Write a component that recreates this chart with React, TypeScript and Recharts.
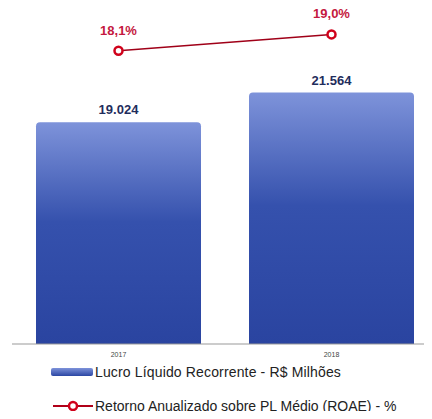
import React from 'react';
import { ComposedChart, Bar, Line, XAxis, YAxis, LabelList, Legend } from 'recharts';

const years = ['2017', '2018'];
const lucro = [19024, 21564];
const lucroLabels = ['19.024', '21.564'];
const roae = [18.1, 19.0];
const roaeLabels = ['18,1%', '19,0%'];

const data = years.map((y, i) => ({
  year: y,
  lucro: lucro[i],
  lucroLabel: lucroLabels[i],
  roae: roae[i],
  roaeLabel: roaeLabels[i],
}));

const FONT = 'Liberation Sans, Arial, sans-serif';

const LegendContent = () => (
  <div style={{ fontFamily: FONT, fontSize: 14, color: '#222', position: 'relative', width: 400, height: 55 }}>
    <div style={{ position: 'absolute', left: 0, top: 4, display: 'flex', alignItems: 'center', height: 16 }}>
      <div style={{ width: 42, height: 8, borderRadius: 2, background: 'linear-gradient(#7d92da, #2b46a3)', marginRight: 2 }} />
      <span style={{ letterSpacing: 0.15 }}>Lucro Líquido Recorrente - R$ Milhões</span>
    </div>
    <div style={{ position: 'absolute', left: 2, top: 38, display: 'flex', alignItems: 'center', height: 16 }}>
      <svg width={40} height={12} style={{ marginRight: 2 }}>
        <line x1={0} y1={6} x2={40} y2={6} stroke="#b00018" strokeWidth={2} />
        <circle cx={20} cy={6} r={4} fill="#fff" stroke="#d0021b" strokeWidth={2.5} />
      </svg>
      <span style={{ letterSpacing: 0 }}>Retorno Anualizado sobre PL Médio (ROAE) - %</span>
    </div>
  </div>
);

export default function App() {
  return (
    <div style={{ width: 432, height: 419, overflow: 'hidden', margin: -8 }}>
      <ComposedChart
        width={438}
        height={419}
        data={data}
        margin={{ top: 10, right: 0, bottom: 4, left: 12 }}
        barCategoryGap={24}
      >
        <defs>
          <linearGradient id="barGrad" x1="0" y1="0" x2="0" y2="1">
            <stop offset="0%" stopColor="#7e93da" />
            <stop offset="45%" stopColor="#3551ad" />
            <stop offset="100%" stopColor="#2a44a0" />
          </linearGradient>
        </defs>
        <XAxis
          dataKey="year"
          height={16}
          tickLine={false}
          axisLine={{ stroke: '#999', strokeWidth: 1 }}
          tick={{ fontSize: 7, fill: '#444', fontFamily: FONT }}
          tickMargin={2}
        />
        <YAxis yAxisId="left" hide domain={[0, 28650]} />
        <YAxis yAxisId="right" hide orientation="right" domain={[2, 20.34]} />
        <Legend
          verticalAlign="bottom"
          height={55}
          content={<LegendContent />}
          wrapperStyle={{ left: 51, width: 400 }}
        />
        <Bar yAxisId="left" dataKey="lucro" fill="url(#barGrad)" radius={[4, 4, 0, 0]} isAnimationActive={false}>
          <LabelList
            dataKey="lucroLabel"
            position="top"
            offset={8}
            style={{ fill: '#1f2d5c', fontSize: 13, fontWeight: 'bold', fontFamily: FONT }}
          />
        </Bar>
        <Line
          yAxisId="right"
          dataKey="roae"
          stroke="#a00018"
          strokeWidth={1.5}
          dot={{ r: 4, fill: '#fff', stroke: '#d0021b', strokeWidth: 2.5 }}
          isAnimationActive={false}
        >
          <LabelList
            dataKey="roaeLabel"
            position="top"
            offset={16}
            style={{ fill: '#c41840', fontSize: 13, fontWeight: 'bold', fontFamily: FONT }}
          />
        </Line>
      </ComposedChart>
    </div>
  );
}
